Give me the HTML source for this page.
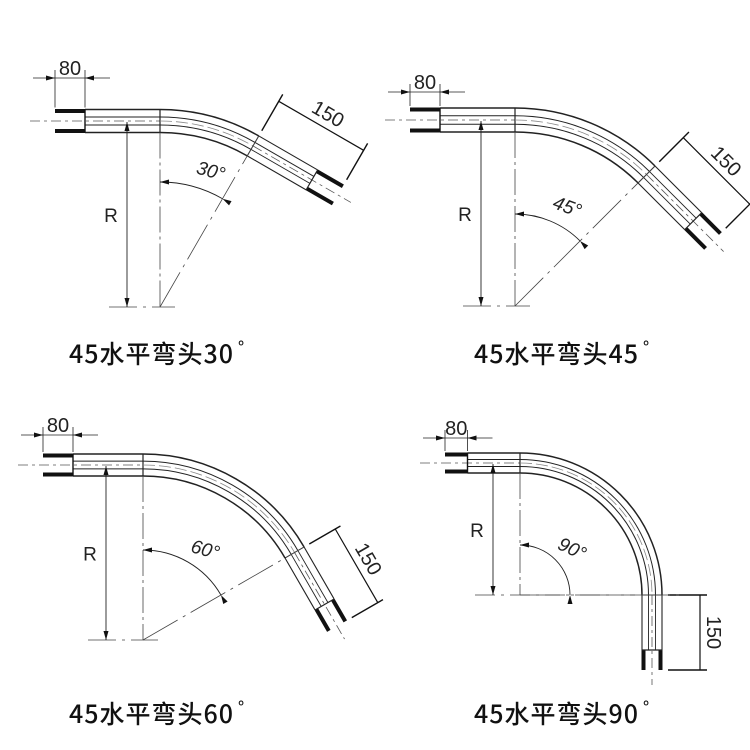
<!DOCTYPE html>
<html><head><meta charset="utf-8"><style>
body{margin:0;background:#fff;width:750px;height:750px;overflow:hidden}
svg{display:block}
.t{font-family:"Noto Sans CJK SC","Liberation Sans",sans-serif;font-size:25px;font-weight:500;fill:#111;letter-spacing:1px}
.d{font-family:"Liberation Sans",sans-serif;font-size:19px;fill:#222}
</style></head><body>
<svg id="s" width="750" height="750" viewBox="0 0 750 750" xmlns="http://www.w3.org/2000/svg">
<text class="t" x="69" y="363">45水平弯头30<tspan style="font-size:16px" dx="4" dy="-10">°</tspan></text>
<text class="t" x="474" y="363">45水平弯头45<tspan style="font-size:16px" dx="4" dy="-10">°</tspan></text>
<text class="t" x="69" y="723">45水平弯头60<tspan style="font-size:16px" dx="4" dy="-10">°</tspan></text>
<text class="t" x="474" y="723">45水平弯头90<tspan style="font-size:16px" dx="4" dy="-10">°</tspan></text>
</svg>
<script>
const S=document.getElementById('s');const NS='http://www.w3.org/2000/svg';
function el(n,a,p){const e=document.createElementNS(NS,n);for(const k in a)e.setAttribute(k,a[k]);(p||S).appendChild(e);return e;}
function ln(x1,y1,x2,y2,w,c,da){el('line',{x1,y1,x2,y2,stroke:c||'#222','stroke-width':w||1,'stroke-dasharray':da||'none'});}
function arrow(x,y,dx,dy){const l=Math.hypot(dx,dy);dx/=l;dy/=l;const nx=-dy,ny=dx;
 el('polygon',{points:`${x},${y} ${x-dx*9+nx*2.5},${y-dy*9+ny*2.5} ${x-dx*9-nx*2.5},${y-dy*9-ny*2.5}`,fill:'#111'});}
function panel(p){
 const {cx,cy,Rc,h,A,cap0,dimY,L1,Lc,rArc,rdx,lab,ang}=p;
 const a=A*Math.PI/180, s=Math.sin(a), c=Math.cos(a);
 const ty=cy-Rc; const offs=[-h,-h*0.35,h*0.35,h];
 const P=(r,t)=>[cx+r*Math.sin(t),cy-r*Math.cos(t)];
 offs.forEach((o,i)=>ln(cap0+30*(p.cs||1),ty+o,cx,ty+o,(i==0||i==3)?1.4:1));
 ln(cap0-25,ty,cx,ty,0.8,'#555','10 4 3 4');
 const cL=cap0+30*(p.cs||1);
 ln(cap0,ty-h+1.5,cL,ty-h+1.5,4,'#111');ln(cap0,ty+h-1.5,cL,ty+h-1.5,4,'#111');ln(cL,ty-h,cL,ty+h,1.4,'#111');
 ln(cx,ty-h,cx,ty+h,1.2);
 offs.forEach((o,i)=>{const r=Rc-o;const [x1,y1]=P(r,0),[x2,y2]=P(r,a);
  el('path',{d:`M${x1},${y1} A${r},${r} 0 0 1 ${x2},${y2}`,fill:'none',stroke:'#222','stroke-width':(i==0||i==3)?1.5:1});});
 {const [x1,y1]=P(Rc,0),[x2,y2]=P(Rc,a);el('path',{d:`M${x1},${y1} A${Rc},${Rc} 0 0 1 ${x2},${y2}`,fill:'none',stroke:'#888','stroke-width':0.8,'stroke-dasharray':'12 4'});}
 const tx=c,tyy=s;
 offs.forEach((o,i)=>{const [x,y]=P(Rc-o,a);ln(x,y,x+tx*L1,y+tyy*L1,i==0||i==3?1.1:0.9);});
 {const [x,y]=P(Rc,a);ln(x,y,x+tx*(L1+Lc+15),y+tyy*(L1+Lc+15),0.8,'#555','10 4 3 4');}
 [-h,h].forEach(o=>{const oo=o>0?o-1.5:o+1.5;const [x,y]=P(Rc-oo,a);ln(x+tx*L1,y+tyy*L1,x+tx*(L1+Lc),y+tyy*(L1+Lc),4,'#111');});
 {const [x1,y1]=P(Rc+h,a),[x2,y2]=P(Rc-h,a);ln(x1+tx*L1,y1+tyy*L1,x2+tx*L1,y2+tyy*L1,1.2);ln(x1,y1,x2,y2,1);}
 const [ox,oy]=P(Rc+h,a);const nx=s,ny=-c;const e0=6,e1=p.e1||48,dm=p.dm||40;
 const b=[ox,oy],e=[ox+tx*(L1+Lc),oy+tyy*(L1+Lc)];
 [b,e].forEach(q=>ln(q[0]+nx*e0,q[1]+ny*e0,q[0]+nx*e1,q[1]+ny*e1,1.4,'#111'));
 ln(b[0]+nx*dm,b[1]+ny*dm,e[0]+nx*dm,e[1]+ny*dm,1.2,'#111');
 const mx=(b[0]+e[0])/2+nx*(dm+13),my=(b[1]+e[1])/2+ny*(dm+13);
 const t=el('text',{class:'d',x:mx,y:my,'text-anchor':'middle','dominant-baseline':'central',transform:`rotate(${A} ${mx} ${my})`,style:'font-size:20px'});t.textContent='150';
 ln(cx,ty+h,cx,cy,0.8,'#444','26 4 3 4');
 {const [x,y]=P(Rc+h,a);ln(cx,cy,x,y,0.8,'#444','40 6 3 6');}
 ln(rdx-18,cy,cx+(p.bx||15),cy,0.8,'#444',p.bd||'28 6 3 6');
 ln(rdx,ty+1,rdx,cy,0.9,'#222');arrow(rdx,ty+1,0,-1);arrow(rdx,cy,0,1);
 const R=el('text',{class:'d',x:rdx-16,y:(ty+cy)/2+8,'text-anchor':'middle'});R.textContent='R';
 ln(cap0,dimY-8,cap0,ty-h-2,0.8);ln(cL,dimY-8,cL,ty-h-2,0.8);
 ln(cap0-22,dimY,cL+25,dimY,0.8);arrow(cap0,dimY,1,0);arrow(cL,dimY,-1,0);
 const t8=el('text',{class:'d',x:(cap0+cL)/2,y:dimY-3,'text-anchor':'middle',style:'font-size:20px'});t8.textContent='80';
 const [ax1,ay1]=P(rArc,0),[ax2,ay2]=P(rArc,a);
 el('path',{d:`M${ax1},${ay1} A${rArc},${rArc} 0 0 1 ${ax2},${ay2}`,fill:'none',stroke:'#222','stroke-width':0.9});
 arrow(ax1,ay1,-1,0);arrow(ax2,ay2,-c,-s);
 const la=a/2+0.1;const [lx,ly]=P(rArc+14,la);
 const tl=el('text',{class:'d',x:lx,y:ly,'text-anchor':'middle','font-style':'italic',transform:`rotate(${ang} ${lx} ${ly})`});tl.textContent=lab;
}
panel({cx:160,cy:307,Rc:186,h:11.5,A:30,cap0:55,dimY:78,L1:68,Lc:30,rArc:125,rdx:127,lab:'30°',ang:15});
panel({cx:515,cy:306,Rc:186,h:12,A:45,cap0:410,dimY:92,L1:66,Lc:28,rArc:92,rdx:481,lab:'45°',ang:20});
panel({cx:143,cy:640,Rc:175,h:11,A:60,cap0:43,dimY:435,L1:60,Lc:25,rArc:90,rdx:106,lab:'60°',ang:15,e1:42,dm:36});
panel({cx:520,cy:595,Rc:132,h:10,A:90,cap0:445,dimY:438,L1:55,Lc:20,rArc:50,rdx:493,lab:'90°',ang:25,cs:0.75,bx:165,bd:'20 6 3 6',e1:45,dm:38});
</script>
</body></html>
